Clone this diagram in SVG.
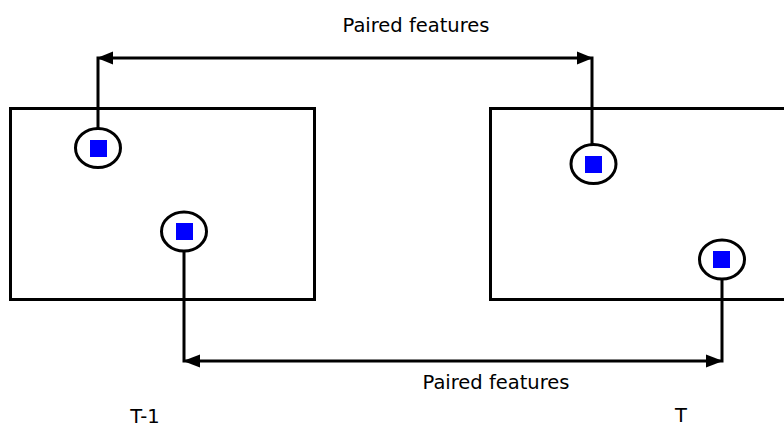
<svg xmlns="http://www.w3.org/2000/svg" width="784" height="427" viewBox="0 0 784 427">
  <style>
    .frame { fill: none; stroke: #000; stroke-width: 3; }
    .feat { fill: #fff; stroke: #000; stroke-width: 3; }
    .dot { fill: #0000ff; }
    .link { fill: none; stroke: #000; stroke-width: 3; }
    .head { fill: #000; stroke: none; }
    .lbl { font-family: "DejaVu Sans", sans-serif; font-size: 19.5px; fill: #000; }
  </style>

  <rect width="784" height="427" fill="#fff"/>

  <g id="frame-t1">
    <rect class="frame" x="10.5" y="108.5" width="304" height="191"/>
    <text class="lbl" x="145" y="423" text-anchor="middle">T-1</text>
  </g>
  <g id="frame-t">
    <rect class="frame" x="490.5" y="108.5" width="304" height="191"/>
    <text class="lbl" x="681" y="422" text-anchor="middle">T</text>
  </g>

  <g id="connectors">
    <!-- upper pairing: T-1 feature to T feature -->
    <path class="link" d="M98,128 V58 H592 V144"/>
    <path class="head" d="M97,58 L113,51.5 L113,64.5 Z"/>
    <path class="head" d="M593,58 L577,51.5 L577,64.5 Z"/>
    <text class="lbl" x="416" y="32" text-anchor="middle">Paired features</text>
    <!-- lower pairing -->
    <path class="link" d="M184,252 V361 H722 V280"/>
    <path class="head" d="M183,361 L200,354.5 L200,367.5 Z"/>
    <path class="head" d="M723,361 L706,354.5 L706,367.5 Z"/>
    <text class="lbl" x="496" y="389" text-anchor="middle">Paired features</text>
  </g>

  <g id="feature-a1">
    <ellipse class="feat" cx="98" cy="148" rx="22.5" ry="19.5"/>
    <rect class="dot" x="90" y="140" width="17" height="17"/>
  </g>
  <g id="feature-b1">
    <ellipse class="feat" cx="184" cy="231.5" rx="22.5" ry="19.5"/>
    <rect class="dot" x="176" y="223" width="17" height="17"/>
  </g>
  <g id="feature-a2">
    <ellipse class="feat" cx="593.5" cy="164" rx="22.5" ry="19.5"/>
    <rect class="dot" x="585" y="156" width="17" height="17"/>
  </g>
  <g id="feature-b2">
    <ellipse class="feat" cx="722" cy="259.5" rx="22.5" ry="19.5"/>
    <rect class="dot" x="713" y="251" width="17" height="17"/>
  </g>
</svg>
